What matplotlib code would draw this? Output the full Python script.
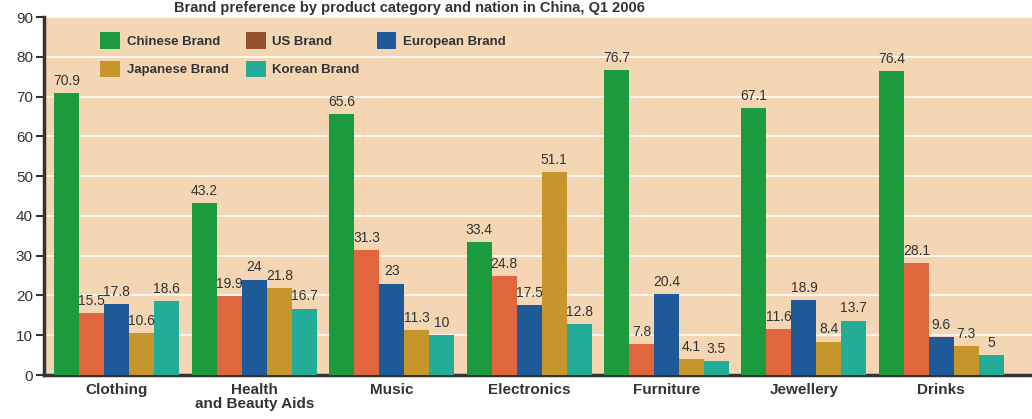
import matplotlib
matplotlib.use("Agg")
import matplotlib.pyplot as plt
import numpy as np
from matplotlib.patches import Patch

plt.rcParams['font.family'] = ['Liberation Sans', 'DejaVu Sans']

categories = ["Clothing", "Health\nand Beauty Aids", "Music", "Electronics",
              "Furniture", "Jewellery", "Drinks"]
series_names = ["Chinese Brand", "US Brand", "European Brand", "Japanese Brand", "Korean Brand"]
chinese = [70.9, 43.2, 65.6, 33.4, 76.7, 67.1, 76.4]
us = [15.5, 19.9, 31.3, 24.8, 7.8, 11.6, 28.1]
european = [17.8, 24, 23, 17.5, 20.4, 18.9, 9.6]
japanese = [10.6, 21.8, 11.3, 51.1, 4.1, 8.4, 7.3]
korean = [18.6, 16.7, 10, 12.8, 3.5, 13.7, 5]
series = [chinese, us, european, japanese, korean]
yticks = [0, 10, 20, 30, 40, 50, 60, 70, 80, 90]

bar_colors = ["#1c9a3e", "#e0673d", "#1d5a97", "#c6962c", "#23ad98"]
legend_colors = ["#1c9a3e", "#95502d", "#1d5a97", "#c6962c", "#23ad98"]
text_color = "#333333"

fig = plt.figure(figsize=(10.32, 4.19), dpi=100)
ax = fig.add_axes([44/1032, 1-375/419, 1-44/1032, (375-17)/419])
ax.set_facecolor("#f5d6b4")

x = np.arange(len(categories))
w = 0.182
for i, (vals, col) in enumerate(zip(series, bar_colors)):
    pos = x + (i - 2) * w
    bars = ax.bar(pos, vals, width=w, color=col, zorder=3)
    for b, v in zip(bars, vals):
        ax.text(b.get_x() + b.get_width()/2, v + 1.3, f"{v:g}", ha='center', va='bottom',
                fontsize=10, color=text_color, zorder=4)

ax.set_xlim(-0.53, 6.66)
ax.set_ylim(0, 90)
ax.set_yticks(yticks)
ax.tick_params(axis='y', labelsize=11, length=6, width=1.5, color=text_color,
               labelcolor=text_color, pad=2)
ax.set_xticks(x)
ax.set_xticklabels(categories, fontsize=11, color=text_color, linespacing=0.95,
                   fontweight='bold')
ax.tick_params(axis='x', length=0, pad=6)
ax.yaxis.grid(True, color="#ffffff", linewidth=1.4, alpha=0.8, zorder=1)
ax.set_axisbelow(True)
for s in ["top", "right"]:
    ax.spines[s].set_visible(False)
ax.spines["left"].set_linewidth(2.5)
ax.spines["left"].set_color(text_color)
ax.spines["bottom"].set_linewidth(2.5)
ax.spines["bottom"].set_color(text_color)

order = [0, 3, 1, 4, 2]
handles = [Patch(facecolor=legend_colors[k], label=series_names[k]) for k in order]
leg = ax.legend(handles=handles, ncol=3, frameon=False, loc='upper left',
                bbox_to_anchor=(0.045, 0.99), handlelength=1.5, handleheight=1.5,
                handletextpad=0.5, columnspacing=1.3, labelspacing=0.95,
                prop={'size': 9.5, 'weight': 'bold'})
for t in leg.get_texts():
    t.set_color(text_color)

fig.text(645/1032, 1 - 1/419, "Brand preference by product category and nation in China, Q1 2006",
         ha='right', va='top', fontsize=10.5, fontweight='bold', color=text_color)

fig.savefig("out.png", dpi=100, facecolor="white")
